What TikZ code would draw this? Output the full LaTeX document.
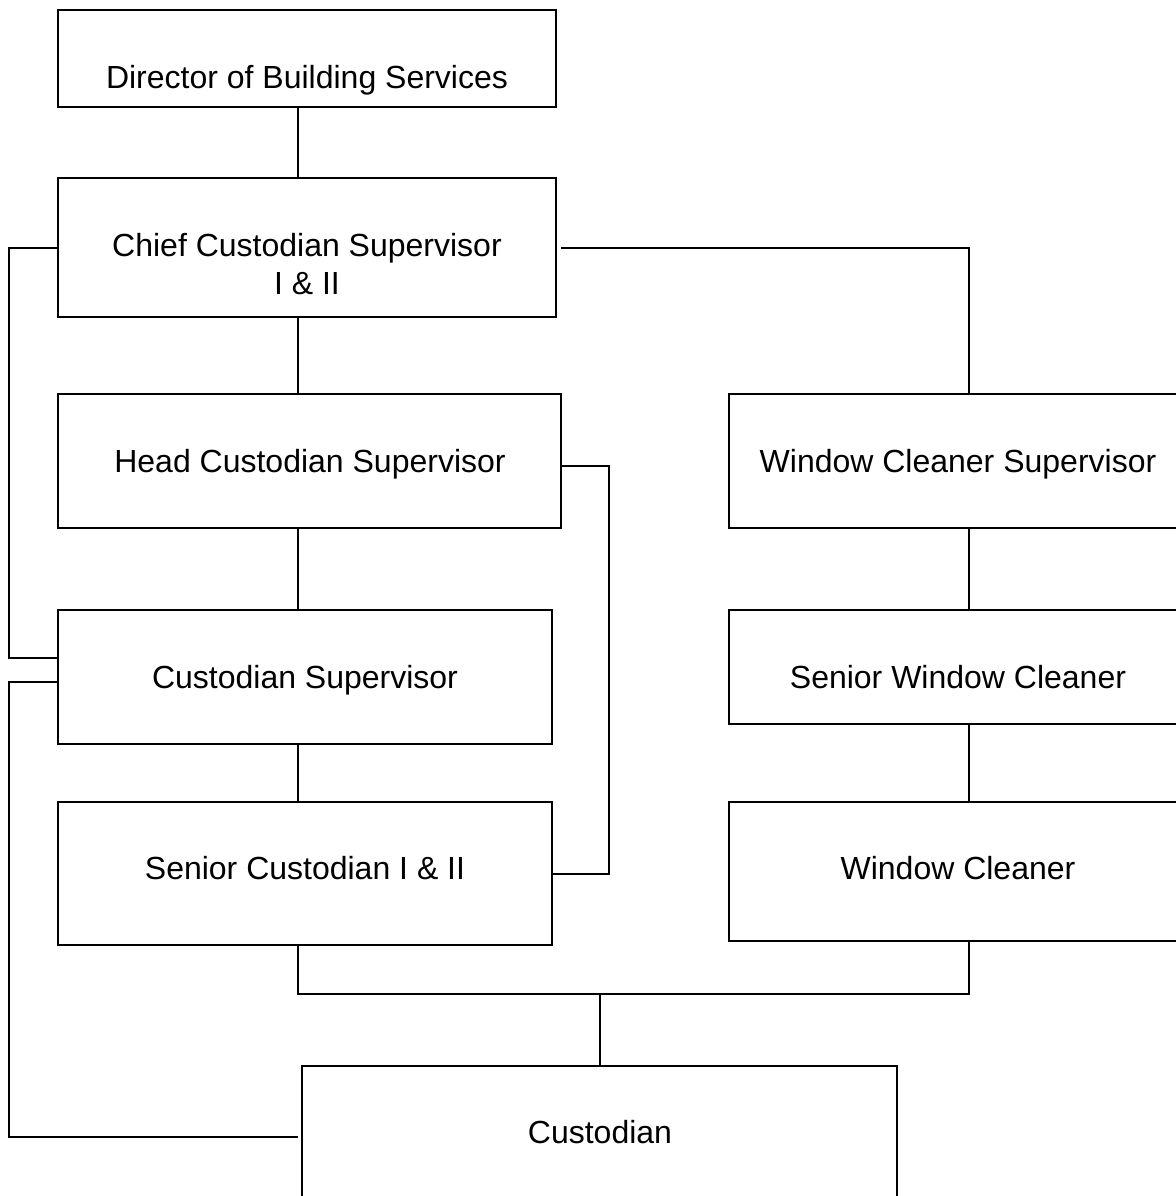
\documentclass[tikz,border=0pt]{standalone}
\usepackage{fontspec}
\setmainfont{Liberation Sans}
\usepackage{tikz}
\usetikzlibrary{positioning,fit}

\begin{document}
\begin{tikzpicture}[
    x=0.5pt, y=-0.5pt,
    post/.style={rectangle, draw, line width=1pt, inner sep=0pt},
    title/.style={font=\fontsize{16}{19}\selectfont, align=center,
                  text depth=0pt, inner sep=0pt},
    link/.style={line width=1pt}
]
\useasboundingbox (0,0) rectangle (1176,1196);

% boxes
\node[post, fit={(58,10) (556,107)}]    (dir)   {};
\node[post, fit={(58,178) (556,317)}]   (chief) {};
\node[post, fit={(58,394) (561,528)}]   (head)  {};
\node[post, fit={(729,394) (1187,528)}] (wcs)   {};
\node[post, fit={(58,610) (552,744)}]   (cs)    {};
\node[post, fit={(729,610) (1187,724)}] (swc)   {};
\node[post, fit={(58,802) (552,945)}]   (sc)    {};
\node[post, fit={(729,802) (1187,941)}] (wc)    {};
\node[post, fit={(302,1066) (897,1260)}] (cust) {};

% titles
\node[title] (dir-t)   at (307,77)   {Director of Building Services};
\node[title] (chief-t) at (307,264)  {Chief Custodian Supervisor\\I \& II};
\node[title] (head-t)  at (310,461)  {Head Custodian Supervisor};
\node[title] (wcs-t)   at (958,461)  {Window Cleaner Supervisor};
\node[title] (cs-t)    at (305,677)  {Custodian Supervisor};
\node[title] (swc-t)   at (958,677)  {Senior Window Cleaner};
\node[title] (sc-t)    at (305,868)  {Senior Custodian I \& II};
\node[title] (wc-t)    at (958,868)  {Window Cleaner};
\node[title] (cust-t)  at (600,1132) {Custodian};

% trunk lines
\coordinate (lx) at (298,0);
\coordinate (rx) at (969,0);
\coordinate (hx) at (609,0);
\coordinate (join) at (600,994);
\coordinate (tail) at (298,1137);

\draw[link] (dir.south -| lx)   -- (chief.north -| lx);
\draw[link] (chief.south -| lx) -- (head.north -| lx);
\draw[link] (head.south -| lx)  -- (cs.north -| lx);
\draw[link] (cs.south -| lx)    -- (sc.north -| lx);
\draw[link] (wcs.south -| rx)   -- (swc.north -| rx);
\draw[link] (swc.south -| rx)   -- (wc.north -| rx);

\draw[link] ([xshift=2pt]chief.east) -| (wcs.north -| rx);
\draw[link] ([yshift=-2.5pt]head.east) -| (hx |- sc.east) -- (sc.east);
\draw[link] (chief.west) -- ++(-24pt,0) |- ([yshift=9.5pt]cs.west);
\draw[link] ([yshift=-2.5pt]cs.west) -- ++(-24pt,0) |- (tail);

\draw[link] (sc.south -| lx) |- (join) -| (wc.south -| rx);
\draw[link] (join) -- (cust.north -| join);
\end{tikzpicture}
\end{document}
